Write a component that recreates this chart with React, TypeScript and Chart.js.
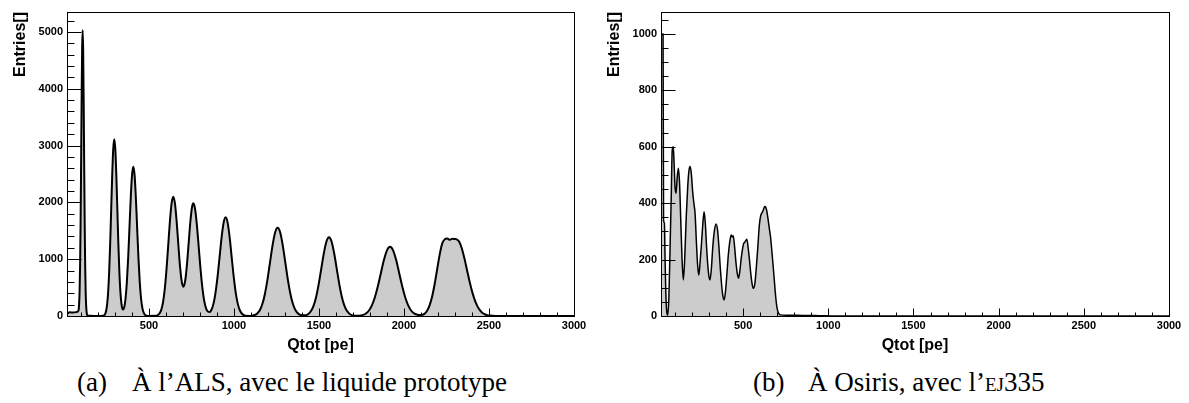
import React, { useEffect, useRef } from "react";
import { Chart, registerables } from "chart.js";

Chart.register(...registerables);

// ---------- axes ----------
const X_MIN = 18;
const X_MAX = 3000;
const X_TICKS = [500, 1000, 1500, 2000, 2500, 3000];
const X_MINOR_STEP = 100;
const X_MAJOR_STEP = 500;
const X_TITLE = "Qtot [pe]";
const Y_TITLE = "Entries[]";

const ALS_Y_MAX = 5350;
const ALS_Y_TICKS = [0, 1000, 2000, 3000, 4000, 5000];
const ALS_Y_MINOR_STEP = 200;
const ALS_Y_MAJOR_STEP = 1000;

const OSIRIS_Y_MAX = 1078;
const OSIRIS_Y_TICKS = [0, 200, 400, 600, 800, 1000];
const OSIRIS_Y_MINOR_STEP = 50;
const OSIRIS_Y_MAJOR_STEP = 200;

// ---------- (a) ALS, liquide prototype : Qtot bin centres / entries ----------
const ALS_X = [
  18, 35, 55, 75, 86, 89, 92, 95, 98, 101, 104, 107, 110, 113, 116, 119, 122, 125, 128, 131, 134, 138, 150, 200, 230,
  236, 242, 248, 254, 260, 266, 272, 278, 284, 290, 296, 302, 308, 314, 320, 326, 332, 338, 344, 350,
  356, 362, 370, 378, 386, 394, 401, 408, 415, 422, 430, 438, 446, 454, 462, 470, 480, 495, 540,
  553, 563, 573, 583, 593, 603, 613, 623, 633, 643, 653, 663, 673, 683, 693, 703,
  713, 723, 733, 743, 753, 761, 771, 781, 791, 801, 811, 821, 831, 841, 849, 857,
  867, 879, 891, 903, 915, 927, 939, 951, 963, 975, 987, 999, 1011, 1023, 1035, 1047, 1059, 1071, 1090,
  1107, 1122, 1137, 1152, 1167, 1182, 1197, 1212, 1227, 1242, 1257, 1272, 1287, 1302, 1317, 1332, 1347, 1362, 1377, 1392, 1407,
  1424, 1439, 1454, 1469, 1484, 1499, 1514, 1529, 1544, 1559, 1574, 1589, 1604, 1619, 1634, 1649, 1664, 1679, 1694, 1709,
  1738, 1756, 1774, 1792, 1810, 1828, 1846, 1864, 1882, 1900, 1918, 1936, 1954, 1972, 1990, 2008, 2026, 2044, 2062, 2080, 2095,
  2105, 2120, 2135, 2150, 2165, 2180, 2195, 2210, 2225, 2240, 2255, 2270, 2285, 2300, 2310, 2325, 2340, 2355, 2370, 2385, 2400,
  2415, 2430, 2445, 2460, 2475, 2490, 2505, 2520, 2550, 3000,
];
const ALS_Y = [
  40, 65, 60, 70, 100, 200, 420, 880, 1640, 2680, 3800, 4690, 5030, 4690, 3800, 2680, 1640, 870, 400, 160, 56, 11, 3, 0, 3,
  12, 34, 89, 205, 421, 775, 1278, 1886, 2490, 2942, 3110, 2942, 2490, 1886, 1278, 778, 428, 222, 127, 115,
  173, 299, 592, 1037, 1595, 2147, 2498, 2628, 2498, 2147, 1595, 1037, 592, 295, 130, 50, 12, 1, 3,
  17, 47, 114, 247, 475, 811, 1230, 1655, 1979, 2100, 1979, 1662, 1250, 864, 602, 515,
  618, 888, 1261, 1641, 1909, 1983, 1889, 1631, 1278, 908, 585, 342, 186, 99, 75, 70,
  105, 209, 399, 678, 1023, 1373, 1638, 1737, 1638, 1373, 1023, 678, 399, 209, 97, 40, 15, 3, 2,
  6, 17, 44, 102, 210, 388, 639, 943, 1244, 1470, 1554, 1470, 1244, 943, 639, 388, 210, 102, 44, 17, 11,
  16, 40, 91, 187, 345, 569, 841, 1108, 1310, 1385, 1310, 1108, 841, 569, 345, 187, 91, 40, 15, 5,
  6, 16, 40, 88, 177, 320, 518, 754, 985, 1156, 1220, 1156, 985, 754, 518, 320, 177, 88, 42, 21, 16,
  18, 38, 89, 183, 336, 555, 819, 1080, 1277, 1350, 1365, 1340, 1360, 1355, 1350, 1308, 1191, 1019, 819, 618, 438,
  292, 183, 107, 59, 31, 15, 7, 3, 0, 0,
];

// ---------- (b) Osiris, EJ335 ----------
const OSIRIS_X = [
  18, 30, 33, 38, 42, 46, 51, 57, 64, 71, 78, 84, 90, 95, 100, 106, 113, 120, 127, 134, 141, 149,
  157, 166, 175, 182, 189, 196, 204, 211, 218, 226, 233, 240, 248, 256, 264, 271, 278, 286, 294, 300, 306,
  314, 322, 331, 341, 350, 358, 366, 374, 381, 389, 397, 405, 413, 421, 430, 436, 442, 450, 458, 466, 473,
  481, 489, 496, 502, 510, 516, 522, 530, 538, 546, 554, 561, 569, 578, 587, 595, 603, 610, 618, 624, 630,
  638, 646, 654, 661, 668, 676, 684, 691, 698, 706, 718, 760, 850, 950, 1050, 3000,
];
const OSIRIS_Y = [
  1000, 1000, 340, 330, 200, 90, 20, 3, 60, 234, 420, 589, 600, 540, 460, 435, 490, 524, 470, 340, 210, 128,
  200, 350, 460, 515, 530, 505, 440, 400, 364, 260, 180, 145, 195, 260, 330, 370, 330, 240, 170, 138, 128,
  170, 245, 300, 326, 305, 245, 170, 110, 72, 57, 90, 150, 215, 260, 287, 280, 285, 245, 190, 150, 134,
  160, 205, 235, 255, 262, 268, 272, 240, 195, 145, 110, 98, 115, 175, 250, 320, 355, 365, 375, 385, 388,
  375, 345, 310, 280, 235, 180, 120, 70, 33, 12, 4, 3, 2, 1, 0, 0,
];

const CAPTION_A_LABEL = "(a)";
const CAPTION_A_TEXT = "À l’ALS, avec le liquide prototype";
const CAPTION_B_LABEL = "(b)";
const CAPTION_B_TEXT = "À Osiris, avec l’";
const CAPTION_B_SC = "ej";
const CAPTION_B_TAIL = "335";

const SANS = "'Liberation Sans', Arial, Helvetica, sans-serif";
const SERIF = "'Liberation Serif', 'Times New Roman', serif";

// ROOT-like frame, inward ticks and axis titles
const rootFramePlugin = {
  id: "rootFrame",
  afterDatasetsDraw(chart: any, _args: any, opts: any) {
    const { ctx, chartArea: a } = chart;
    const xs = chart.scales.x;
    const ys = chart.scales.y;
    ctx.save();
    ctx.strokeStyle = "#000";
    ctx.lineWidth = 1;
    ctx.beginPath();
    const bottom = Math.round(a.bottom) + 0.5;
    const left = Math.round(a.left) + 0.5;
    for (let v = Math.ceil(xs.min / X_MINOR_STEP) * X_MINOR_STEP; v <= xs.max; v += X_MINOR_STEP) {
      const px = Math.round(xs.getPixelForValue(v)) + 0.5;
      const len = v % X_MAJOR_STEP === 0 ? 8 : 4;
      ctx.moveTo(px, bottom);
      ctx.lineTo(px, bottom - len);
    }
    for (let v = 0; v <= ys.max; v += opts.yMinor) {
      const py = Math.round(ys.getPixelForValue(v)) + 0.5;
      const len = v % opts.yMajor === 0 ? 14 : 7;
      ctx.moveTo(left, py);
      ctx.lineTo(left + len, py);
    }
    ctx.stroke();
    ctx.strokeRect(left, Math.round(a.top) + 0.5, Math.round(a.right - a.left), Math.round(a.bottom - a.top));

    ctx.fillStyle = "#000";
    ctx.font = `bold 16px ${SANS}`;
    ctx.textBaseline = "alphabetic";
    ctx.textAlign = "center";
    ctx.fillText(X_TITLE, (a.left + a.right) / 2, a.bottom + 34);
    ctx.save();
    ctx.translate(25, a.top);
    ctx.rotate(-Math.PI / 2);
    ctx.textAlign = "right";
    ctx.fillText(Y_TITLE, 0, 0);
    ctx.restore();
    ctx.restore();
  },
};

type HistProps = {
  left: number;
  width: number;
  xs: number[];
  ys: number[];
  yMax: number;
  yTicks: number[];
  yMinor: number;
  yMajor: number;
  lineWidth: number;
  padRight: number;
};

function Hist(p: HistProps) {
  const ref = useRef<HTMLCanvasElement>(null);
  useEffect(() => {
    const n = Math.min(p.xs.length, p.ys.length);
    const data: { x: number; y: number }[] = [];
    for (let i = 0; i < n; i++) data.push({ x: p.xs[i], y: p.ys[i] });
    const tickFont = { family: SANS, size: 11, weight: "bold" as const };
    const plain = (v: any) => String(v);
    const chart = new Chart(ref.current as HTMLCanvasElement, {
      type: "line",
      data: {
        datasets: [
          {
            data,
            borderColor: "#000",
            borderWidth: p.lineWidth,
            backgroundColor: "#cccccc",
            fill: "origin",
            pointRadius: 0,
            pointHoverRadius: 0,
            cubicInterpolationMode: "monotone",
            borderJoinStyle: "round",
          } as any,
        ],
      },
      options: {
        responsive: false,
        animation: false,
        devicePixelRatio: 1,
        events: [],
        layout: { padding: { top: 12, right: p.padRight, bottom: 0, left: 0 } },
        plugins: {
          legend: { display: false },
          tooltip: { enabled: false },
          rootFrame: { yMinor: p.yMinor, yMajor: p.yMajor },
        } as any,
        scales: {
          x: {
            type: "linear",
            min: X_MIN,
            max: X_MAX,
            grid: { display: false, drawTicks: false },
            border: { display: false },
            ticks: {
              color: "#000",
              font: tickFont,
              padding: 3,
              maxRotation: 0,
              minRotation: 0,
              autoSkip: false,
              callback: plain,
            },
            afterBuildTicks: (s: any) => {
              s.ticks = X_TICKS.map((value) => ({ value }));
            },
            afterFit: (s: any) => {
              s.height = 44;
            },
          },
          y: {
            type: "linear",
            min: 0,
            max: p.yMax,
            grid: { display: false, drawTicks: false },
            border: { display: false },
            ticks: { color: "#000", font: tickFont, padding: 4, autoSkip: false, callback: plain },
            afterBuildTicks: (s: any) => {
              s.ticks = p.yTicks.map((value) => ({ value }));
            },
            afterFit: (s: any) => {
              s.width = 67;
            },
          },
        },
      } as any,
      plugins: [rootFramePlugin as any],
    });
    return () => chart.destroy();
  }, []);
  return (
    <canvas
      ref={ref}
      width={p.width}
      height={360}
      style={{ position: "absolute", left: p.left, top: 0, width: p.width, height: 360 }}
    />
  );
}

const capStyle = (left: number): React.CSSProperties => ({
  position: "absolute",
  left,
  top: 368,
  fontFamily: SERIF,
  fontSize: 27,
  lineHeight: "28px",
  whiteSpace: "nowrap",
  color: "#000",
});

export default function App() {
  return (
    <div
      style={{
        position: "fixed",
        left: 0,
        top: 0,
        width: 1189,
        height: 403,
        background: "#fff",
        overflow: "hidden",
      }}
    >
      <Hist
        left={0}
        width={600}
        xs={ALS_X}
        ys={ALS_Y}
        yMax={ALS_Y_MAX}
        yTicks={ALS_Y_TICKS}
        yMinor={ALS_Y_MINOR_STEP}
        yMajor={ALS_Y_MAJOR_STEP}
        lineWidth={2}
        padRight={26}
      />
      <Hist
        left={594}
        width={595}
        xs={OSIRIS_X}
        ys={OSIRIS_Y}
        yMax={OSIRIS_Y_MAX}
        yTicks={OSIRIS_Y_TICKS}
        yMinor={OSIRIS_Y_MINOR_STEP}
        yMajor={OSIRIS_Y_MAJOR_STEP}
        lineWidth={1.5}
        padRight={20}
      />
      <div style={capStyle(77)}>{CAPTION_A_LABEL}</div>
      <div style={capStyle(132)}>{CAPTION_A_TEXT}</div>
      <div style={capStyle(753)}>{CAPTION_B_LABEL}</div>
      <div style={capStyle(808)}>
        {CAPTION_B_TEXT}
        <span style={{ fontVariant: "small-caps" }}>{CAPTION_B_SC}</span>
        {CAPTION_B_TAIL}
      </div>
    </div>
  );
}
